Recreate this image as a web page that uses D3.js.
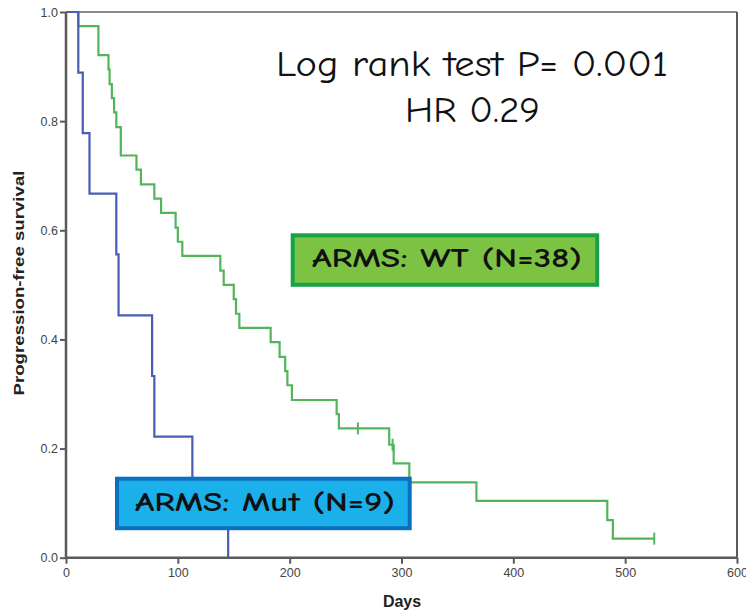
<!DOCTYPE html>
<html>
<head>
<meta charset="utf-8">
<script src="https://cdn.jsdelivr.net/npm/d3@7"></script>
<style>
  html, body { margin: 0; padding: 0; background: #ffffff; }
  svg { display: block; }
</style>
</head>
<body>
<svg id="chart" width="746" height="615"></svg>
<script>
// ---- Data ----
const xTicks = [0, 100, 200, 300, 400, 500, 600];
const yTicks = [0.0, 0.2, 0.4, 0.6, 0.8, 1.0];

// ARMS: Mut (N=9) – Kaplan-Meier steps
const mutDays = [0, 11, 15, 21, 45, 47, 77, 79, 113, 145];
const mutSurv = [1.0, 0.889, 0.778, 0.667, 0.556, 0.444, 0.333, 0.222, 0.111, 0.0];

// ARMS: WT (N=38) – Kaplan-Meier steps
const wtDays = [0, 11, 29, 38, 39, 41, 43, 45, 49, 63, 67, 79, 85, 98, 100, 104, 138, 141,
                150, 152, 155, 183, 191, 196, 198, 202, 242, 244, 289, 293, 307, 367, 484, 489, 526];
const wtSurv = [1.0, 0.974, 0.921, 0.895, 0.868, 0.842, 0.816, 0.789, 0.737, 0.711, 0.684, 0.658,
                0.632, 0.605, 0.579, 0.553, 0.526, 0.500, 0.474, 0.447, 0.421, 0.395, 0.368, 0.342,
                0.316, 0.289, 0.263, 0.237, 0.207, 0.173, 0.138, 0.104, 0.069, 0.035, 0.035];

// censored observations (WT)
const wtCensorDays = [261, 292, 526];
const wtCensorSurv = [0.237, 0.207, 0.035];

const annotLines = ["Log rank test  P= 0.001", "HR 0.29"];
const wtLabel = "ARMS:  WT (N=38)";
const mutLabel = "ARMS:  Mut (N=9)";

// ---- Drawing ----
const svg = d3.select("#chart");
const x = d3.scaleLinear().domain([0, 600]).range([66, 737]);
const y = d3.scaleLinear().domain([0, 1]).range([557.7, 12]);

const axisColor = "#5a5a5a";
const tickTextColor = "#444";

// frame top & right
svg.append("line").attr("x1", x(0)).attr("x2", x(600)).attr("y1", y(1)).attr("y2", y(1))
  .attr("stroke", "#8a8a8a").attr("stroke-width", 2);
svg.append("line").attr("x1", x(600)).attr("x2", x(600)).attr("y1", y(1)).attr("y2", y(0))
  .attr("stroke", axisColor).attr("stroke-width", 2);

// curves
const line = d3.line().x(d => x(d[0])).y(d => y(d[1])).curve(d3.curveStepAfter);
const wtPts = wtDays.map((d, i) => [d, wtSurv[i]]);
const mutPts = mutDays.map((d, i) => [d, mutSurv[i]]);

const green = "#52b55a";
const blue = "#4a5db4";

svg.append("path").attr("d", line(wtPts)).attr("fill", "none")
  .attr("stroke", green).attr("stroke-width", 2.2);
svg.append("path").attr("d", line(mutPts)).attr("fill", "none")
  .attr("stroke", blue).attr("stroke-width", 2.2);

// censor ticks
svg.selectAll(".censor").data(wtCensorDays.map((d, i) => [d, wtCensorSurv[i]]))
  .enter().append("line")
  .attr("x1", d => x(d[0])).attr("x2", d => x(d[0]))
  .attr("y1", d => y(d[1]) - 6).attr("y2", d => y(d[1]) + 6)
  .attr("stroke", green).attr("stroke-width", 2);

// axes
const xAxis = d3.axisBottom(x).tickValues(xTicks).tickSize(6).tickPadding(4).tickFormat(d3.format("d"));
const yAxis = d3.axisLeft(y).tickValues(yTicks).tickSize(6).tickPadding(2).tickFormat(d3.format(".1f"));

const gx = svg.append("g").attr("transform", `translate(0,${y(0)})`).call(xAxis);
const gy = svg.append("g").attr("transform", `translate(${x(0)},0)`).call(yAxis);
[gx, gy].forEach(g => {
  g.select(".domain").attr("stroke", axisColor).attr("stroke-width", 2.5);
  g.selectAll(".tick line").attr("stroke", axisColor).attr("stroke-width", 2);
  g.selectAll(".tick text").attr("fill", tickTextColor)
    .style("font-family", "'Liberation Sans', Arial, sans-serif").style("font-size", "12.5px");
});
gx.select(".domain").attr("d", `M${x(0)},0H${x(600)}`);
gy.select(".domain").attr("d", `M0,${y(1)}V${y(0)}`);

// axis titles
svg.append("text").attr("x", 402).attr("y", 607).attr("text-anchor", "middle")
  .style("font-family", "'Liberation Sans', Arial, sans-serif").style("font-weight", "bold")
  .style("font-size", "16px").attr("fill", "#222").text("Days");
svg.append("text").attr("transform", "translate(24,283) rotate(-90)").attr("text-anchor", "middle")
  .style("font-family", "'Liberation Sans', Arial, sans-serif").style("font-weight", "bold")
  .style("font-size", "15.5px").attr("fill", "#222")
  .attr("textLength", 225).attr("lengthAdjust", "spacingAndGlyphs")
  .text("Progression-free survival");

// annotation
const comic = "'Comic Sans MS', 'Comic Neue', 'DejaVu Sans', sans-serif";
svg.append("text").attr("x", 276).attr("y", 76)
  .style("font-family", comic).style("font-size", "36px").attr("fill", "#111")
  .attr("textLength", 392).attr("lengthAdjust", "spacingAndGlyphs").text(annotLines[0]);
svg.append("text").attr("x", 405).attr("y", 122)
  .style("font-family", comic).style("font-size", "37px").attr("fill", "#111")
  .attr("textLength", 135).attr("lengthAdjust", "spacingAndGlyphs").text(annotLines[1]);

// legend boxes
function box(bx, by, bw, bh, fill, stroke, label, tx, tw, ty) {
  svg.append("rect").attr("x", bx + 2).attr("y", by + 2).attr("width", bw - 4).attr("height", bh - 4)
    .attr("fill", fill).attr("stroke", stroke).attr("stroke-width", 4);
  svg.append("text").attr("x", tx).attr("y", ty)
    .style("font-family", comic).style("font-weight", "bold").style("font-size", "26px").attr("fill", "#111")
    .attr("textLength", tw).attr("lengthAdjust", "spacingAndGlyphs").text(label);
}
box(290.7, 233.3, 308.5, 53.5, "#7cc343", "#17a24a", wtLabel, 312, 270, 267);
box(115, 476.7, 296.7, 53.5, "#1cb0ea", "#0b70c2", mutLabel, 135, 260, 511);
</script>
</body>
</html>
